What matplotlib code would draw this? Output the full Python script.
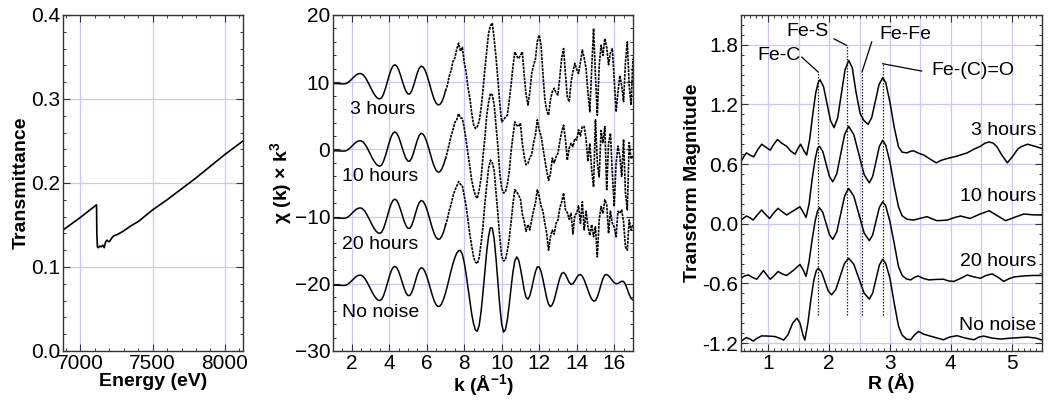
import numpy as np
import matplotlib
matplotlib.use("Agg")
import matplotlib.pyplot as plt
from matplotlib.ticker import MultipleLocator

plt.rcParams['font.family'] = ['Liberation Sans', 'DejaVu Sans']
plt.rcParams['mathtext.fontset'] = 'custom'
plt.rcParams['mathtext.rm'] = 'Liberation Sans'
plt.rcParams['mathtext.bf'] = 'Liberation Sans:bold'

# ---------------- left panel data ----------------
energy = [6880, 7000, 7112, 7114, 7118, 7125, 7135, 7145, 7155, 7165, 7175, 7185,
          7195, 7205, 7215, 7230, 7260, 7300, 7350, 7400, 7450, 7500, 7600, 7700,
          7800, 7900, 8000, 8125]
transmittance = [0.144, 0.159, 0.174, 0.140, 0.124, 0.123, 0.125, 0.124, 0.126, 0.123,
                 0.130, 0.132, 0.130, 0.131, 0.134, 0.137, 0.139, 0.143, 0.149, 0.154,
                 0.161, 0.168, 0.180, 0.193, 0.206, 0.220, 0.234, 0.250]

# ---------------- middle panel data ----------------
k_grid = np.linspace(1.0, 17.0, 161)
chi_no_noise = [
    -0.20, -0.20, -0.21, -0.22, -0.24, -0.25, -0.25, -0.20, -0.05, 0.18,
    0.45, 0.74, 0.99, 1.19, 1.28, 1.28, 1.11, 0.79, 0.35, -0.18,
    -0.74, -1.30, -1.78, -2.17, -2.42, -2.50, -2.31, -1.75, -0.92, 0.05,
    1.02, 1.86, 2.41, 2.60, 2.41, 1.87, 1.08, 0.17, -0.70, -1.38,
    -1.75, -1.74, -1.30, -0.51, 0.45, 1.38, 2.08, 2.39, 2.29, 1.86,
    1.14, 0.24, -0.75, -1.71, -2.54, -3.11, -3.38, -3.32, -2.95, -2.29,
    -1.40, -0.35, 0.80, 1.94, 2.99, 3.87, 4.55, 4.92, 4.96, 4.41,
    3.19, 1.48, -0.54, -2.60, -4.49, -5.96, -6.87, -7.07, -6.18, -4.15,
    -1.34, 1.79, 4.77, 7.08, 8.34, 8.28, 6.63, 3.70, 0.10, -3.38,
    -6.01, -7.17, -6.83, -5.37, -3.13, -0.57, 1.76, 3.41, 4.00, 3.55,
    2.32, 0.68, -0.91, -2.01, -2.29, -1.79, -0.68, 0.62, 1.82, 2.51,
    2.51, 1.85, 0.63, -0.76, -2.10, -3.06, -3.40, -3.13, -2.38, -1.32,
    -0.16, 0.86, 1.53, 1.69, 1.38, 0.80, 0.21, -0.09, 0.01, 0.42,
    0.93, 1.31, 1.38, 1.13, 0.58, -0.16, -0.96, -1.71, -2.28, -2.57,
    -2.51, -1.98, -1.10, -0.09, 0.77, 1.31, 1.38, 1.20, 0.87, 0.49,
    0.17, 0.01, 0.05, 0.22, 0.38, 0.34, -0.09, -0.80, -1.58, -2.18,
    -2.40]
# noisy high-k parts (k = 7.0 ... 17.0)
chi_3h_high = [
    -1.3, -0.5, 0.9, 1.7, 3.1, 3.6, 4.9, 5.8, 4.6, 5.2,
    3.0, 1.5, -0.8, -2.3, -4.6, -6.3, -6.9, -6.6, -5.8, -3.9,
    -1.2, 1.9, 4.6, 7.3, 8.4, 8.8, 6.4, 3.6, 0.3, -3.2,
    -5.9, -5.6, -5.2, -4.9, -2.8, -0.4, 2.3, 4.5, 3.9, 3.5,
    4.0, 4.5, 1.0, -1.8, -3.4, -1.5, 1.3, 2.5, 3.4, 6.1,
    7.0, 5.5, 1.2, -2.5, -4.2, -4.9, -2.6, -1.4, -0.9, -1.6,
    -1.9, 0.8, 3.6, 5.0, 1.2, -2.2, -2.9, 0.0, 1.6, 2.8,
    1.9, 1.3, 3.0, 4.8, 3.6, 2.0, -1.5, -4.4, 2.0, 8.0,
    1.0, -4.9, 2.5, 5.5, 4.0, 6.5, 5.2, 2.6, 4.4, 5.0,
    0.5, -4.4, -1.5, 1.0, -0.5, -2.9, 3.0, 6.0, -0.5, -3.4,
    3.5]
chi_10h_high = [
    -1.4, -0.4, 0.8, 2.0, 2.9, 4.0, 4.4, 5.3, 4.7, 4.6,
    3.2, 1.4, -0.6, -2.5, -4.6, -5.9, -6.9, -7.3, -6.0, -4.3,
    -1.1, 1.6, 5.0, 7.0, 8.3, 8.1, 6.6, 3.4, 0.4, -3.6,
    -5.8, -6.5, -6.3, -5.2, -3.4, -0.3, 2.0, 4.1, 3.6, 3.4,
    3.9, 0.9, -1.0, -2.3, -2.1, -1.2, -0.8, 1.0, 2.2, 4.4,
    2.9, 2.0, 0.2, -1.5, -3.2, -4.6, -3.6, -1.3, -2.0, -1.1,
    -0.6, 1.2, 2.6, 3.6, 1.5, -1.6, 0.2, 0.9, 0.4, 1.6,
    1.4, 2.9, 2.0, 3.4, 3.4, 1.5, -1.8, 0.9, -3.0, -5.6,
    4.4, -2.0, -4.1, 2.8, 1.0, 3.4, -6.0, 0.9, 2.4, -3.5,
    -8.5, -2.1, 0.5, -1.0, -4.0, 1.5, -6.5, -9.0, 1.0, -1.4,
    -1.0]
chi_20h_high = [
    -1.3, -0.4, 0.9, 1.8, 3.0, 3.9, 4.5, 5.2, 4.8, 4.6,
    3.1, 1.6, -0.5, -2.6, -4.4, -6.0, -6.8, -7.0, -6.1, -4.0,
    -1.5, 1.9, 4.6, 7.2, 8.4, 8.0, 6.8, 3.5, 0.3, -3.2,
    -5.9, -6.6, -6.4, -5.1, -3.3, -0.8, 1.8, 4.0, 3.7, 3.2,
    2.6, 0.4, -0.7, -2.2, -1.2, -2.0, -0.5, 0.9, 2.0, 4.0,
    3.0, 1.6, 0.8, -1.0, -2.5, -5.0, -3.0, -2.0, -2.6, -1.0,
    -0.5, 1.3, 2.2, 3.5, 1.0, 0.6, -0.4, 0.5, -2.6, 0.2,
    0.5, 1.6, -1.0, 2.2, -2.0, 0.8, -1.5, -2.8, -1.2, -3.0,
    -1.5, -6.0, -0.5, 1.5, 0.5, 2.5, 1.8, -2.5, 0.8, -1.0,
    -1.5, -3.0, 0.8, 0.5, 1.0, -0.8, -4.5, -5.0, -0.5, -2.0,
    -1.2]
chi_labels = ["3 hours", "10 hours", "20 hours", "No noise"]
chi_offsets = [10, 0, -10, -20]
chi_label_x = [1.9, 1.46, 1.46, 1.46]
chi_label_y = [6.0, -4.0, -14.1, -24.2]

# ---------------- right panel data ----------------
r_3h = [0.55, 0.60, 0.64, 0.70, 0.76, 0.82, 0.89, 0.96, 1.03, 1.09, 1.15, 1.22, 1.30, 1.37,
        1.44, 1.48, 1.53, 1.58, 1.63, 1.68, 1.73, 1.78, 1.82, 1.85, 1.9075, 1.965, 2.0225,
        2.08, 2.14, 2.20, 2.26, 2.32, 2.38, 2.44, 2.51, 2.57, 2.64, 2.70, 2.76, 2.82, 2.88,
        2.93, 3.00, 3.07, 3.14, 3.20, 3.28, 3.34, 3.39, 3.47, 3.56, 3.66, 3.76, 3.85, 3.94,
        4.10, 4.27, 4.38, 4.49, 4.56, 4.63, 4.70, 4.76, 4.84, 4.93, 5.02, 5.10, 5.15, 5.26,
        5.38, 5.50]
ft_3h = [0.623, 0.68, 0.713, 0.69, 0.673, 0.74, 0.80, 0.77, 0.74, 0.80, 0.847, 0.81, 0.78, 0.73,
         0.70, 0.75, 0.80, 0.74, 0.69, 0.85, 1.10, 1.32, 1.42, 1.449, 1.379, 1.208, 1.037,
         0.967, 1.066, 1.305, 1.544, 1.643, 1.57, 1.33, 1.108, 1.04, 1.00, 1.069, 1.235, 1.40, 1.469,
         1.42, 1.22, 0.97, 0.773, 0.72, 0.713, 0.73, 0.733, 0.71, 0.69, 0.65, 0.613, 0.64, 0.656,
         0.68, 0.713, 0.75, 0.78, 0.81, 0.823, 0.81, 0.773, 0.69, 0.613, 0.68, 0.75, 0.773, 0.80,
         0.78, 0.757]
r_10h = [0.55, 0.60, 0.64, 0.70, 0.75, 0.82, 0.89, 0.96, 1.02, 1.09, 1.16, 1.23, 1.30, 1.41,
         1.52, 1.57, 1.62, 1.67, 1.72, 1.77, 1.81, 1.84, 1.895, 1.95, 2.005, 2.06, 2.125, 2.19,
         2.255, 2.32, 2.405, 2.49, 2.575, 2.66, 2.715, 2.77, 2.825, 2.88, 2.93, 3.00, 3.07,
         3.14, 3.20, 3.28, 3.39, 3.50, 3.61, 3.69, 3.77, 3.85, 3.94, 4.05, 4.16, 4.24, 4.32,
         4.47, 4.63, 4.77, 4.90, 5.05, 5.20, 5.35, 5.50]
ft_10h = [0.037, 0.06, 0.078, 0.06, 0.037, 0.09, 0.138, 0.09, 0.054, 0.11, 0.155, 0.12, 0.088, 0.13,
          0.171, 0.12, 0.064, 0.20, 0.45, 0.65, 0.76, 0.78, 0.728, 0.601, 0.474, 0.422, 0.503, 0.701,
          0.899, 0.98, 0.897, 0.696, 0.495, 0.412, 0.475, 0.626, 0.777, 0.84, 0.79, 0.62, 0.38,
          0.17, 0.08, 0.045, 0.037, 0.055, 0.071, 0.05, 0.031, 0.033, 0.037, 0.06, 0.078, 0.065, 0.054,
          0.095, 0.131, 0.08, 0.031, 0.065, 0.098, 0.09, 0.088]
r_20h = [0.55, 0.61, 0.67, 0.74, 0.81, 0.87, 0.92, 0.98, 1.03, 1.10, 1.16, 1.23, 1.30, 1.41,
         1.52, 1.57, 1.62, 1.67, 1.72, 1.77, 1.81, 1.84, 1.895, 1.95, 2.005, 2.06, 2.125, 2.19,
         2.255, 2.32, 2.405, 2.49, 2.575, 2.66, 2.715, 2.77, 2.825, 2.88, 2.93, 3.00, 3.07,
         3.14, 3.20, 3.27, 3.34, 3.40, 3.46, 3.55, 3.64, 3.76, 3.88, 3.96, 4.05, 4.16, 4.27,
         4.38, 4.49, 4.58, 4.68, 4.78, 4.87, 4.95, 5.04, 5.20, 5.35, 5.50]
ft_20h = [-0.548, -0.525, -0.514, -0.54, -0.558, -0.51, -0.471, -0.52, -0.558, -0.52, -0.48, -0.505,
          -0.52, -0.47, -0.41, -0.46, -0.53, -0.38, -0.16, 0.03, 0.13, 0.161, 0.115, 0.002, -0.111,
          -0.157, -0.082, 0.099, 0.28, 0.355, 0.278, 0.093, -0.093, -0.17, -0.113, 0.026, 0.164,
          0.221, 0.18, 0.02, -0.20, -0.431, -0.52, -0.555, -0.565, -0.54, -0.525, -0.55, -0.565,
          -0.56, -0.558, -0.575, -0.58, -0.55, -0.515, -0.535, -0.548, -0.52, -0.504, -0.54, -0.58,
          -0.555, -0.535, -0.525, -0.52, -0.52]
r_nn = [0.55, 0.60, 0.64, 0.70, 0.75, 0.82, 0.89, 1.00, 1.11, 1.18, 1.25, 1.32, 1.40, 1.47,
        1.52, 1.57, 1.60, 1.65, 1.70, 1.75, 1.79, 1.82, 1.875, 1.93, 1.985, 2.04, 2.11, 2.18,
        2.25, 2.32, 2.405, 2.49, 2.575, 2.66, 2.715, 2.77, 2.825, 2.88, 2.93, 3.00, 3.07, 3.14,
        3.20, 3.27, 3.34, 3.40, 3.47, 3.55, 3.72, 3.88, 3.98, 4.10, 4.24, 4.38, 4.46, 4.54,
        4.68, 4.82, 5.00, 5.26, 5.40, 5.50]
ft_nn = [-1.183, -1.16, -1.145, -1.16, -1.18, -1.15, -1.128, -1.13, -1.135, -1.15, -1.17, -1.12,
         -1.00, -0.95, -1.00, -1.12, -1.17, -1.00, -0.76, -0.56, -0.47, -0.447, -0.486, -0.581,
         -0.676, -0.715, -0.661, -0.531, -0.401, -0.347, -0.407, -0.553, -0.698, -0.758, -0.699,
         -0.558, -0.416, -0.357, -0.40, -0.55, -0.80, -1.03, -1.12, -1.16, -1.167, -1.12, -1.083,
         -1.11, -1.14, -1.167, -1.14, -1.126, -1.15, -1.167, -1.14, -1.13, -1.15, -1.16, -1.15,
         -1.14, -1.15, -1.17]
ft_labels = ["3 hours", "10 hours", "20 hours", "No noise"]
ft_label_y = [0.934, 0.272, -0.38, -1.023]

peak_names = ["Fe-C", "Fe-S", "Fe-Fe", "Fe-(C)=O"]
peak_R = [1.82, 2.29, 2.54, 2.88]
peak_top = [1.526, 1.793, 1.526, 1.61]
peak_bottom = -0.916
peak_text_xy = [(1.18, 1.69), (1.65, 1.93), (3.25, 1.907), (4.36, 1.54)]
peak_leader_start = [(1.55, 1.676), (2.08, 1.86), (2.70, 1.83), (3.52, 1.536)]

# ---------------- figure ----------------
GRID = '#c8c8fa'
FS = 14
TFS = 15

fig = plt.figure(figsize=(10.5, 4.01), dpi=100)
ax1 = fig.add_axes([0.060, 0.1247, 0.1714, 0.8379])
ax2 = fig.add_axes([0.3171, 0.1247, 0.2857, 0.8379])
ax3 = fig.add_axes([0.7057, 0.1247, 0.2867, 0.8379])


def style(ax):
    ax.set_axisbelow(True)
    ax.grid(True, which='major', color=GRID, lw=0.9)
    ax.tick_params(which='both', direction='in', top=True, right=True,
                   labelsize=TFS, color='#333333', pad=2)
    ax.tick_params(which='major', length=5, width=0.8)
    ax.tick_params(which='minor', length=2.5, width=0.7)
    for s in ax.spines.values():
        s.set_linewidth(1.0)
        s.set_color('#333333')


# left panel
ax1.plot(energy, transmittance, color='black', lw=1.2)
ax1.set_xlim(6880, 8125)
ax1.set_ylim(0, 0.4)
ax1.xaxis.set_major_locator(MultipleLocator(500))
ax1.xaxis.set_minor_locator(MultipleLocator(100))
ax1.yaxis.set_major_locator(MultipleLocator(0.1))
ax1.yaxis.set_minor_locator(MultipleLocator(0.02))
ax1.yaxis.set_major_formatter(plt.FormatStrFormatter('%.1f'))
ax1.set_xlabel('Energy (eV)', fontsize=FS, fontweight='bold', labelpad=0)
ax1.set_ylabel('Transmittance', fontsize=FS, fontweight='bold', labelpad=1)
style(ax1)

# middle panel
base = np.array(chi_no_noise)
series = [np.concatenate([base[:60], chi_3h_high]),
          np.concatenate([base[:60], chi_10h_high]),
          np.concatenate([base[:60], chi_20h_high]),
          base]
for i, (y, off, lab, lx, ly) in enumerate(zip(series, chi_offsets, chi_labels,
                                               chi_label_x, chi_label_y)):
    y = np.asarray(y) + off
    if i < 3:
        ax2.plot(k_grid[:61], y[:61], color='black', lw=1.1)
        ax2.plot(k_grid[60:], y[60:], color='black', lw=1.2, ls=(0, (1.6, 0.6)))
    else:
        ax2.plot(k_grid, y, color='black', lw=1.1)
    ax2.text(lx, ly, lab, fontsize=FS, ha='left', va='center')
ax2.set_xlim(1, 17)
ax2.set_ylim(-30, 20)
ax2.xaxis.set_major_locator(MultipleLocator(2))
ax2.xaxis.set_minor_locator(MultipleLocator(0.5))
ax2.yaxis.set_major_locator(MultipleLocator(10))
ax2.yaxis.set_minor_locator(MultipleLocator(2))
ax2.set_xlabel(r'k (Å$^{\mathbf{-1}}$)', fontsize=FS, fontweight='bold', labelpad=0)
ax2.set_ylabel(r'χ (k) × k$^{\mathbf{3}}$', fontsize=FS, fontweight='bold', labelpad=0)
style(ax2)

# right panel
for r, f in zip([r_3h, r_10h, r_20h, r_nn], [ft_3h, ft_10h, ft_20h, ft_nn]):
    ax3.plot(r, f, color='black', lw=1.1)
for lab, ly in zip(ft_labels, ft_label_y):
    ax3.text(5.40, ly, lab, fontsize=FS, ha='right', va='center')
for name, pr, pt, txy, ls in zip(peak_names, peak_R, peak_top, peak_text_xy, peak_leader_start):
    ax3.plot([pr, pr], [peak_bottom, pt], color='#222222', lw=0.9, ls=(0, (1.2, 1.2)))
    ax3.plot([ls[0], pr], [ls[1], pt], color='black', lw=0.9)
    ax3.text(txy[0], txy[1], name, fontsize=FS, ha='center', va='center')
ax3.set_xlim(0.55, 5.5)
ax3.set_ylim(-1.28, 2.1)
ax3.xaxis.set_major_locator(MultipleLocator(1))
ax3.xaxis.set_minor_locator(MultipleLocator(0.1))
ax3.yaxis.set_major_locator(MultipleLocator(0.6))
ax3.yaxis.set_minor_locator(MultipleLocator(0.1))
ax3.yaxis.set_major_formatter(plt.FormatStrFormatter('%.1f'))
ax3.set_xlabel('R (Å)', fontsize=FS, fontweight='bold', labelpad=0)
ax3.set_ylabel('Transform Magnitude', fontsize=FS, fontweight='bold', labelpad=1)
style(ax3)
ax3.xaxis.grid(False)
for xv in np.arange(0.5, 5.51, 0.5):
    ax3.axvline(xv, color=GRID, lw=0.9, zorder=0)

fig.savefig('out.png', dpi=100)
